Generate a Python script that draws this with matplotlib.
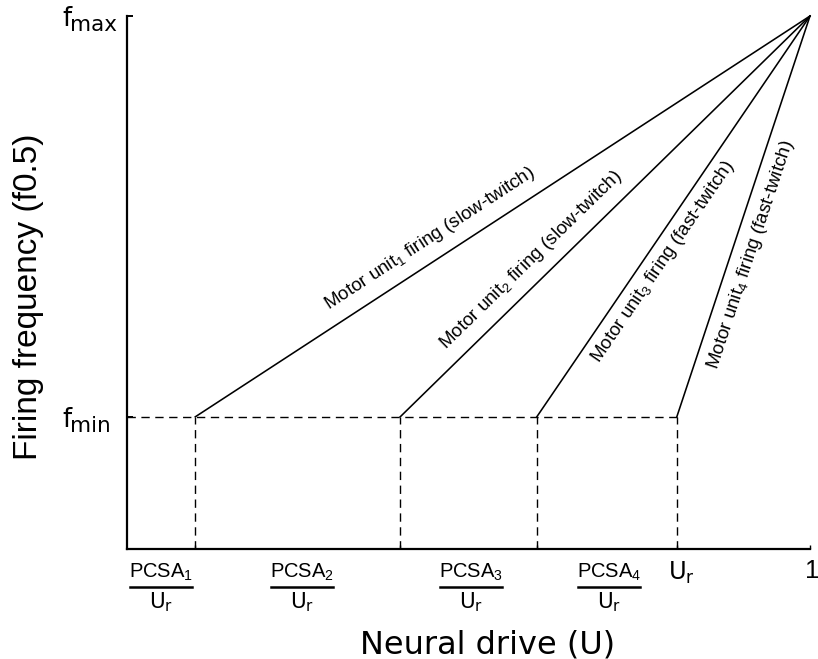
import numpy as np
import matplotlib
matplotlib.use("Agg")
import matplotlib.pyplot as plt

# --- model values -------------------------------------------------------
# recruitment thresholds PCSA_i / U_r for the four motor units (neural drive)
thresholds = [0.10, 0.40, 0.60, 0.805]
unit_names = ["1", "2", "3", "4"]
unit_types = ["slow-twitch", "slow-twitch", "fast-twitch", "fast-twitch"]
f_min = 0.248          # minimum firing frequency (fraction of f_max)
f_max = 1.0
u_max = 1.0            # full neural drive

# --- layout (pixels) -----------------------------------------------------
W, H = 818, 659
fig = plt.figure(figsize=(W / 100, H / 100), dpi=100)
ax_left, ax_right, ax_top, ax_bottom = 127, 810, 16, 549
ax = fig.add_axes([ax_left / W, (H - ax_bottom) / H,
                   (ax_right - ax_left) / W, (ax_bottom - ax_top) / H])
ax.set_xlim(0, u_max)
ax.set_ylim(0, f_max)

for s in ("top", "right"):
    ax.spines[s].set_visible(False)
for s in ("left", "bottom"):
    ax.spines[s].set_linewidth(1.6)

ax.set_xticks(thresholds + [u_max])
ax.set_xticklabels([])
ax.tick_params(axis="x", direction="in", length=3, width=1.0)
ax.set_yticks([f_min, f_max])
ax.set_yticklabels([])
ax.tick_params(axis="y", direction="in", length=4, width=1.4)

dash = dict(color="black", lw=1.0, linestyle=(0, (6, 4)), clip_on=False)
solid = dict(color="black", lw=1.15, clip_on=False)

# firing-rate ramps from recruitment to full drive
for x0 in thresholds:
    ax.plot([x0, u_max], [f_min, f_max], **solid)

# dashed guides: f_min level and recruitment drops
ax.plot([0, thresholds[-1]], [f_min, f_min], **dash)
for x0 in thresholds:
    ax.plot([x0, x0], [0, f_min], **dash)

# --- labels along the ramps ---------------------------------------------
label_t = [0.40, 0.355, 0.41, 0.42]        # position along each ramp
label_off = [21, 21, -17, -19]             # perpendicular offset (px)
p_end = ax.transData.transform((u_max, f_max))
inv = ax.transData.inverted()
for x0, name, kind, t, off in zip(thresholds, unit_names, unit_types,
                                  label_t, label_off):
    p0 = ax.transData.transform((x0, f_min))
    d = p_end - p0
    u = d / np.hypot(*d)
    n = np.array([-u[1], u[0]])
    xd, yd = inv.transform(p0 + t * d + off * n)
    ang = np.degrees(np.arctan2(d[1], d[0]))
    ax.text(xd, yd, r"Motor unit$\mathregular{_%s}$ firing (%s)" % (name, kind),
            rotation=ang, rotation_mode="anchor", ha="center", va="center",
            family="Liberation Sans", fontsize=13.5, clip_on=False)


def fx(px):
    return px / W


def fy(py):
    return 1 - py / H


# --- y tick labels f_max / f_min ----------------------------------------
for val, sub in ((f_max, "max"), (f_min, "min")):
    ypix = H - ax.transData.transform((0, val))[1]
    fig.text(fx(62), fy(ypix + 10.5), "f", family="DejaVu Sans",
             fontsize=18.5, ha="left", va="baseline")
    fig.text(fx(70), fy(ypix + 15), sub, family="DejaVu Sans",
             fontsize=15.5, ha="left", va="baseline")

# --- x tick labels -------------------------------------------------------
frac_label_x = [161, 302, 471, 609]   # centres of the fraction labels (px)
for cx, name in zip(frac_label_x, unit_names):
    fig.text(fx(cx), fy(ax_bottom + 29), r"$\mathregular{PCSA_%s}$" % name,
             family="Liberation Sans", fontsize=14.5, ha="center",
             va="baseline")
    fig.add_artist(plt.Line2D([fx(cx - 31), fx(cx + 31)],
                              [fy(ax_bottom + 38)] * 2, color="black",
                              lw=1.8, transform=fig.transFigure))
    fig.text(fx(cx), fy(ax_bottom + 59), r"$\mathregular{U_r}$",
             family="DejaVu Sans", fontsize=15.5, ha="center", va="baseline")

fig.text(fx(681), fy(ax_bottom + 31), r"$\mathregular{U_r}$",
         family="DejaVu Sans", fontsize=17.5, ha="center", va="baseline")
fig.text(fx(812), fy(ax_bottom + 29), "1",
         family="Liberation Sans", fontsize=18.5, ha="center", va="baseline")

# --- axis titles ---------------------------------------------------------
fig.text(fx(37), fy(297), "Firing frequency (f0.5)", family="Liberation Sans",
         fontsize=24, rotation=90, rotation_mode="anchor",
         ha="center", va="baseline")
fig.text(fx(488), fy(653), "Neural drive (U)", family="DejaVu Sans",
         fontsize=23, ha="center", va="baseline")

fig.savefig("out.png", dpi=100)
